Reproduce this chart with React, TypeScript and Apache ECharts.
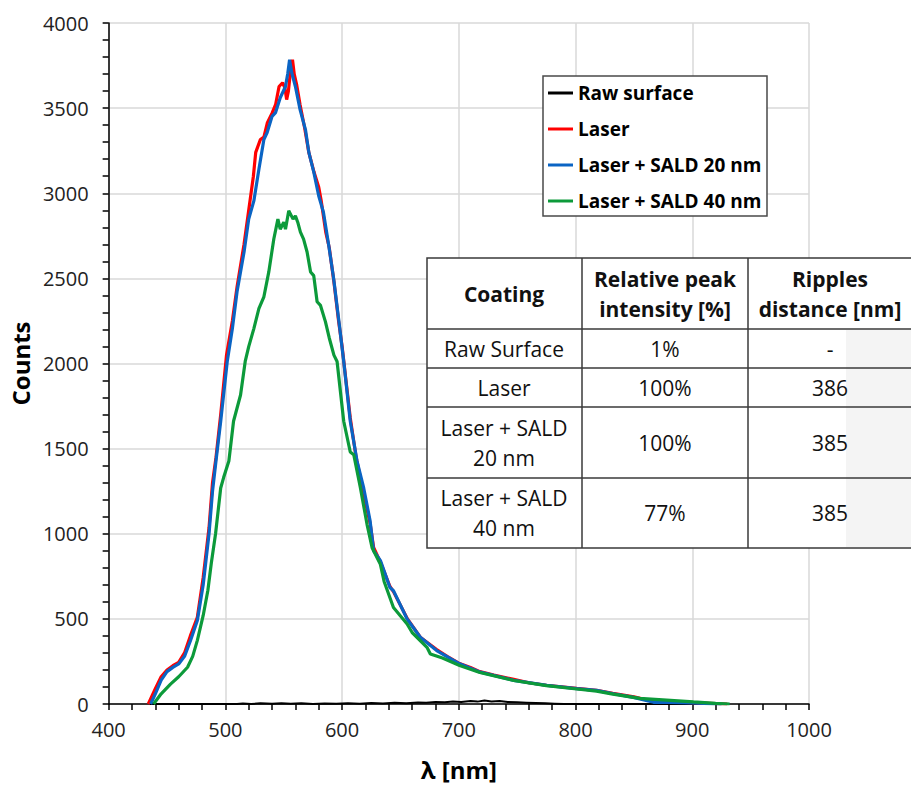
import React, { useEffect, useRef } from "react";
import * as echarts from "echarts";

// ---- data (λ [nm], counts) ----
const rawSurface: [number, number][] = [
  [435, 0], [510, 0], [515, 3], [522, 0], [530, 4], [540, 1], [548, 5], [556, 2], [565, 4], [575, 0],
  [585, 3], [595, 2], [605, 5], [615, 2], [625, 6], [635, 3], [645, 7], [655, 5], [665, 9], [672, 7],
  [680, 12], [688, 10], [695, 15], [702, 12], [710, 17], [716, 14], [722, 20], [728, 15], [735, 17],
  [742, 12], [750, 10], [758, 8], [766, 6], [774, 4], [782, 2], [790, 0], [930, 0],
];

const laser: [number, number][] = [
  [434, 0], [440, 90], [445, 160], [450, 200], [455, 225], [460, 245], [465, 300], [470, 400],
  [476, 509], [481, 743], [486, 1035], [489, 1300], [492, 1450], [496, 1700], [501, 2050], [506, 2250],
  [510, 2450], [516, 2700], [520, 2900], [524, 3100], [526, 3240], [530, 3316], [533, 3330], [536, 3415],
  [540, 3470], [543, 3520], [546, 3627], [549, 3649], [551, 3620], [552.5, 3550], [554, 3600], [556, 3730],
  [557.5, 3784], [559, 3700], [561, 3640], [564, 3520], [568, 3380], [571.5, 3240], [576, 3123], [580, 3035],
  [582, 2960], [586, 2772], [589, 2680], [593, 2480], [597, 2250], [600, 2100], [604, 1860], [607, 1680],
  [612, 1450], [618, 1250], [624, 1060], [627, 920], [633, 830], [641, 690], [644, 660], [656, 500],
  [667, 392], [681, 320], [690, 280], [700, 240], [710, 215], [718, 190], [730, 170], [747, 145],
  [760, 125], [775, 110], [790, 100], [801, 92], [818, 80], [832, 62], [850, 42], [867, 15], [880, 12],
  [900, 8], [915, 4], [930, 0],
];

const sald20: [number, number][] = [
  [436, 0], [440, 60], [445, 140], [450, 190], [455, 215], [460, 235], [465, 280], [470, 370],
  [476, 490], [481, 700], [486, 1000], [489, 1250], [492, 1430], [496, 1661], [501.6, 2012], [506, 2205],
  [510, 2421], [516, 2655], [520, 2848], [524.4, 2955], [528.7, 3140], [533, 3316], [535.8, 3357],
  [540, 3452], [543, 3474], [547, 3561], [551.5, 3627], [553.5, 3705], [555, 3784], [557, 3705],
  [560, 3627], [564, 3491], [568.6, 3374], [571.5, 3240], [575.8, 3123], [580, 2984], [584, 2889],
  [588.6, 2692], [592.8, 2497], [597, 2263], [601.4, 2012], [607, 1661], [612.8, 1427], [618.5, 1269],
  [624, 1076], [627, 900], [633, 840], [641, 684], [644, 665], [655.7, 499], [667, 392], [681, 314],
  [700.7, 236], [718.4, 187], [747, 139], [775.5, 109], [801, 90], [818, 80], [832.5, 60], [849.6, 39],
  [866.8, 10], [880, 10], [900, 6], [915, 2], [925, 0],
];

const sald40: [number, number][] = [
  [438.5, 0], [445, 60], [453, 117], [460, 160], [467.6, 216], [472, 280], [476, 374], [481, 520],
  [485, 667], [488, 830], [491.6, 1000], [496, 1269], [498.5, 1330], [503, 1427], [507, 1661], [513, 1815],
  [517, 2012], [520, 2099], [524.4, 2205], [528.7, 2322], [533, 2392], [537.2, 2538], [541.5, 2731],
  [545, 2848], [547, 2789], [550, 2830], [551.5, 2789], [554.3, 2897], [558, 2848], [560, 2867],
  [562, 2830], [564.3, 2772], [567, 2731], [570, 2655], [573, 2538], [575.7, 2516], [578.6, 2363],
  [581.5, 2341], [585.7, 2246], [589, 2150], [593, 2049], [595.7, 2012], [601.4, 1661], [607, 1480],
  [610, 1464], [615.7, 1269], [621.4, 1054], [625.7, 918], [632.8, 820], [636, 720], [644, 567],
  [655.7, 470], [660, 420], [672.7, 333], [675.6, 294], [686, 270], [700.7, 226], [718, 185], [747, 138],
  [775, 108], [801, 88], [818, 76], [832, 58], [855, 33], [878, 23], [901, 12], [920, 4], [932, 0],
];

const seriesNames = ["Raw surface", "Laser", "Laser + SALD 20 nm", "Laser + SALD 40 nm"];
const seriesColors = ["#000000", "#ff0000", "#0a64c4", "#0c9a3a"];

const tableHeader: string[][] = [["Coating"], ["Relative peak", "intensity [%]"], ["Ripples", "distance [nm]"]];
const tableRows: string[][][] = [
  [["Raw Surface"], ["1%"], ["-"]],
  [["Laser"], ["100%"], ["386"]],
  [["Laser + SALD", "20 nm"], ["100%"], ["385"]],
  [["Laser + SALD", "40 nm"], ["77%"], ["385"]],
];

const FONT = "'Open Sans', 'Noto Sans', sans-serif";

export default function App() {
  const ref = useRef<HTMLDivElement>(null);
  useEffect(() => {
    if (!ref.current) return;
    const chart = echarts.init(ref.current, undefined, { renderer: "svg" });

    // table geometry
    const colX = [427, 582, 748, 913];
    const rowY = [258, 329, 368, 407, 478, 548];
    const lineColor = "#3a3a3a";
    const g: any[] = [];
    g.push({ type: "rect", z: 5, shape: { x: colX[0], y: rowY[0], width: colX[3] - colX[0], height: rowY[5] - rowY[0] }, style: { fill: "#ffffff", stroke: lineColor, lineWidth: 1.5 } });
    g.push({ type: "rect", z: 5, shape: { x: 846, y: rowY[1] + 1, width: 70, height: rowY[5] - rowY[1] - 2 }, style: { fill: "#f4f4f4" } });
    for (let i = 1; i < rowY.length - 1; i++) {
      g.push({ type: "line", z: 6, shape: { x1: colX[0], y1: rowY[i], x2: colX[3], y2: rowY[i] }, style: { stroke: lineColor, lineWidth: 1.5 } });
    }
    for (let j = 1; j < colX.length - 1; j++) {
      g.push({ type: "line", z: 6, shape: { x1: colX[j], y1: rowY[0], x2: colX[j], y2: rowY[5] }, style: { stroke: lineColor, lineWidth: 1.5 } });
    }
    const colCenters = [504, 665, 830];
    const lineStep = 30;
    const addCell = (lines: string[], cx: number, top: number, bottom: number, bold: boolean) => {
      const cy = (top + bottom) / 2;
      const start = cy - ((lines.length - 1) * lineStep) / 2;
      lines.forEach((t, k) => {
        g.push({
          type: "text", z: 7, x: cx, y: start + k * lineStep,
          style: { text: t, fill: "#111", font: `${bold ? "bold " : ""}21px ${FONT}`, textAlign: "center", textVerticalAlign: "middle" },
        });
      });
    };
    tableHeader.forEach((cell, j) => addCell(cell, colCenters[j], rowY[0], rowY[1], true));
    tableRows.forEach((row, i) => row.forEach((cell, j) => addCell(cell, colCenters[j], rowY[i + 1], rowY[i + 2], false)));

    // legend box
    g.push({ type: "rect", z: 3, shape: { x: 543, y: 76, width: 224, height: 140 }, style: { fill: "#ffffff", stroke: "#4a4a4a", lineWidth: 1.5 } });

    const datasets = [rawSurface, laser, sald20, sald40];

    chart.setOption({
      animation: false,
      grid: { left: 108, right: 102, top: 23, bottom: 79 },
      legend: {
        data: seriesNames,
        orient: "vertical",
        left: 548,
        top: 83,
        padding: 0,
        itemGap: 16,
        itemWidth: 25,
        itemHeight: 3,
        itemTextGap: 3,
        icon: "rect",
        z: 10,
        textStyle: { fontFamily: FONT, fontSize: 19, fontWeight: "bold", color: "#000", lineHeight: 20 },
      },
      xAxis: {
        type: "value",
        min: 400,
        max: 1000,
        interval: 100,
        name: "λ [nm]",
        nameLocation: "middle",
        nameGap: 53,
        nameTextStyle: { fontFamily: FONT, fontSize: 24, fontWeight: "bold", color: "#000" },
        axisLine: { onZero: false, lineStyle: { color: "#000", width: 1.5 } },
        axisTick: { show: true, inside: false, length: 6, lineStyle: { color: "#000", width: 1.5 } },
        minorTick: { show: true, splitNumber: 5, length: 6, lineStyle: { color: "#000", width: 1.5 } },
        splitLine: { show: true, lineStyle: { color: "#d9d9d9", width: 1.5 } },
        axisLabel: { fontFamily: FONT, fontSize: 20, color: "#222", margin: 15, formatter: (v: number) => String(v) },
      },
      yAxis: {
        type: "value",
        min: 0,
        max: 4000,
        interval: 500,
        name: "Counts",
        nameLocation: "middle",
        nameGap: 74,
        nameTextStyle: { fontFamily: FONT, fontSize: 24, fontWeight: "bold", color: "#000" },
        axisLine: { show: true, lineStyle: { color: "#000", width: 1.5 } },
        axisTick: { show: true, inside: false, length: 6, lineStyle: { color: "#000", width: 1.5 } },
        minorTick: { show: true, splitNumber: 5, length: 6, lineStyle: { color: "#000", width: 1.5 } },
        splitLine: { show: true, lineStyle: { color: "#d9d9d9", width: 1.5 } },
        axisLabel: { fontFamily: FONT, fontSize: 20, color: "#222", margin: 20, formatter: (v: number) => String(v) },
      },
      series: datasets.map((d, i) => ({
        name: seriesNames[i],
        type: "line",
        data: d,
        showSymbol: false,
        symbol: "none",
        color: seriesColors[i],
        lineStyle: { color: seriesColors[i], width: i === 0 ? 2 : 3.2 },
        z: 2 + i,
      })),
      graphic: { elements: g },
    });
    return () => chart.dispose();
  }, []);
  return <div ref={ref} style={{ position: "absolute", left: 0, top: 0, width: 911, height: 786, background: "#fff" }} />;
}
